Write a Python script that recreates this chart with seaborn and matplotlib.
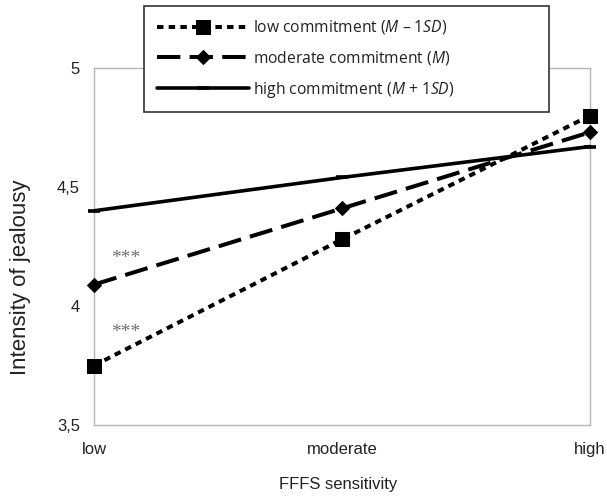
import matplotlib
matplotlib.use("Agg")
import matplotlib.pyplot as plt
import seaborn as sns
import pandas as pd

categories = ["low", "moderate", "high"]
low_commit = [3.75, 4.28, 4.80]
mod_commit = [4.09, 4.41, 4.73]
high_commit = [4.40, 4.54, 4.67]
series_labels = [
    r"low commitment ($\mathit{M}$ – 1$\mathit{SD}$)",
    r"moderate commitment ($\mathit{M}$)",
    r"high commitment ($\mathit{M}$ + 1$\mathit{SD}$)",
]
yticks = [3.5, 4.0, 4.5, 5.0]
ytick_labels = ["3,5", "4", "4,5", "5"]
star_labels = ["***", "***"]
star_y = [4.20, 3.89]

sns.set_theme(style="white")
plt.rcParams["font.family"] = ["Liberation Sans", "DejaVu Sans"]
plt.rcParams["mathtext.fontset"] = "custom"
plt.rcParams["mathtext.it"] = "Open Sans:italic"
plt.rcParams["mathtext.rm"] = "Open Sans"

fig = plt.figure(figsize=(6.07, 5.04), dpi=100)
ax = fig.add_axes([94/607, 1-425/504, (590-94)/607, (425-68)/504])

xpos = list(range(len(categories)))
styles = [
    dict(marker="s", markersize=9.5, linestyle=(0, (1.6, 1.3)), lw=2.9),
    dict(marker="D", markersize=7.5, linestyle=(0, (5.8, 2.3)), lw=2.9),
    dict(marker="_", markersize=9, markeredgewidth=2.6, linestyle="-", lw=2.6),
]
for vals, lab, st in zip([low_commit, mod_commit, high_commit], series_labels, styles):
    df = pd.DataFrame({"x": xpos, "y": vals})
    sns.lineplot(data=df, x="x", y="y", ax=ax, color="black", label=lab,
                 markeredgecolor="black", markerfacecolor="black",
                 clip_on=False, zorder=3, **st)

ax.set_xlim(0, 2)
ax.set_ylim(3.5, 5.0)
ax.set_xticks(xpos)
ax.set_xticklabels(categories)
ax.set_yticks(yticks)
ax.set_yticklabels(ytick_labels)
for s in ax.spines.values():
    s.set_color("#b5b5b5")
    s.set_linewidth(1.0)
ax.tick_params(axis="both", which="both", length=8, width=1.0, color="#b5b5b5",
               labelsize=12, labelcolor="#222222", direction="out")
ax.tick_params(axis="x", pad=4)
ax.tick_params(axis="y", pad=2)
ax.set_xlabel("")
ax.set_ylabel("")

for t, yv in zip(star_labels, star_y):
    ax.text(0.07, yv, t, ha="left", va="center", fontsize=14,
            family=["Liberation Serif", "DejaVu Serif"], color="#6f6f6f")

fig.text(338/607, 1-484/504, "FFFS sensitivity", ha="center", va="center",
         fontsize=12, color="#222222")
fig.text(21/607, 1-277/504, "Intensity of jealousy", ha="center", va="center",
         rotation=90, fontsize=16, color="#222222")

ax.get_legend().remove()
handles, labels = ax.get_legend_handles_labels()
leg = fig.legend(handles, labels, loc="upper left",
                 bbox_to_anchor=(144/607, 1-6/504, (549-144)/607, 0),
                 mode="expand", frameon=True, fancybox=False, framealpha=1,
                 edgecolor="#333333", handlelength=5.9, handletextpad=0.25,
                 labelspacing=0.8, borderpad=0.8, borderaxespad=0,
                 prop={"family": ["Open Sans", "DejaVu Sans"], "size": 11.25})
leg.get_frame().set_linewidth(1.2)
for t in leg.get_texts():
    t.set_color("#222222")

fig.savefig("out.png", dpi=100)
